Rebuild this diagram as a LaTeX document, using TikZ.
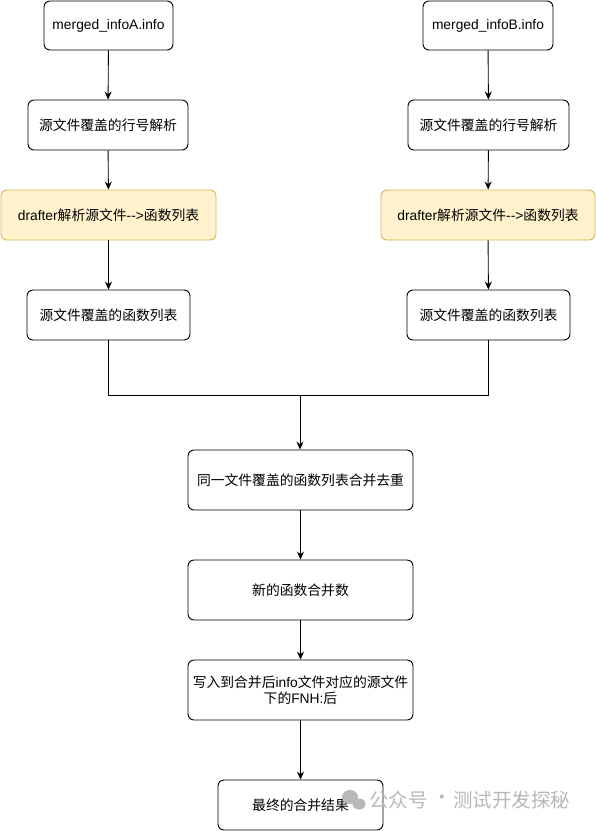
\documentclass[tikz,border=0pt]{standalone}
\usepackage{fontspec}
\setmainfont{Liberation Sans}[Ligatures=NoCommon]
\newfontfamily\cjk{Noto Sans CJK SC}
\usetikzlibrary{arrows.meta,positioning}
\newcommand\zh[1]{{\cjk #1}}
\definecolor{ylwfill}{HTML}{FFF2CC}
\definecolor{ylwline}{HTML}{D6B656}
\definecolor{wmgray}{HTML}{B8B8B8}
\tikzset{
  box/.style={draw=black, line width=0.9pt, rounded corners=6pt, fill=white, font=\fontsize{13.8}{16}\selectfont, align=center, inner sep=0pt},
  ybox/.style={box, draw=ylwline, fill=ylwfill},
  arr/.style={line width=0.9pt, -{Stealth[length=8pt,width=7pt]}},
  ln/.style={line width=0.9pt},
  wm/.style={text=wmgray, font=\cjk\fontsize{19.5}{22}\selectfont, inner sep=0pt}
}
\begin{document}
\begin{tikzpicture}[x=1pt,y=-1pt]
\useasboundingbox (0,0) rectangle (596,831);
% left column
\node[box, minimum width=129pt, minimum height=49pt] (a1) at (108.5,25.5) {merged\_infoA.info};
\node[box, minimum width=160pt, minimum height=50pt] (a2) at (108,125) {\zh{源文件覆盖的行号解析}};
\node[ybox, minimum width=215pt, minimum height=50pt] (a3) at (108.5,215) {drafter\zh{解析源文件}\mbox{-}\mbox{-}>\zh{函数列表}};
\node[box, minimum width=163pt, minimum height=50pt] (a4) at (108.5,315) {\zh{源文件覆盖的函数列表}};
% right column
\node[box, minimum width=130pt, minimum height=49pt] (b1) at (488,25.5) {merged\_infoB.info};
\node[box, minimum width=161pt, minimum height=50pt] (b2) at (488.5,125) {\zh{源文件覆盖的行号解析}};
\node[ybox, minimum width=214pt, minimum height=50pt] (b3) at (488,215) {drafter\zh{解析源文件}\mbox{-}\mbox{-}>\zh{函数列表}};
\node[box, minimum width=163pt, minimum height=50pt] (b4) at (488.5,315) {\zh{源文件覆盖的函数列表}};
% centre column
\node[box, minimum width=225pt, minimum height=60pt] (c1) at (300.5,480) {\zh{同一文件覆盖的函数列表合并去重}};
\node[box, minimum width=225pt, minimum height=60pt] (c2) at (300.5,590) {\zh{新的函数合并数}};
\node[box, minimum width=225pt, minimum height=60pt] (c3) at (300.5,690) {\zh{写入到合并后}info\zh{文件对应的源文件}\\\zh{下的}FNH:\zh{后}};
\node[box, minimum width=165pt, minimum height=50pt] (c4) at (300.5,805) {\zh{最终的合并结果}};
\coordinate (j) at (300,395);
% connectors
\draw[arr] (a1) -- (a2);
\draw[arr] (a2) -- (a3);
\draw[arr] (a3) -- (a4);
\draw[arr] (b1) -- (b2);
\draw[arr] (b2) -- (b3);
\draw[arr] (b3) -- (b4);
\draw[ln] (a4.south) |- (j);
\draw[ln] (b4.south) |- (j);
\draw[arr] (j) -- (c1.north -| j);
\draw[arr] (c1) -- (c2);
\draw[arr] (c2) -- (c3);
\draw[arr] (c3) -- (c4);
% watermark
\fill[wmgray] (350,797) ellipse (8pt and 7pt);
\fill[wmgray] (359,804) ellipse (6.5pt and 5.5pt);
\node[wm, anchor=west] (wm1) at (369,800) {公众号};
\node[wm] (wm2) at (442,800) {·};
\node[wm, anchor=west] (wm3) at (453,800) {测试开发探秘};
\end{tikzpicture}
\end{document}
